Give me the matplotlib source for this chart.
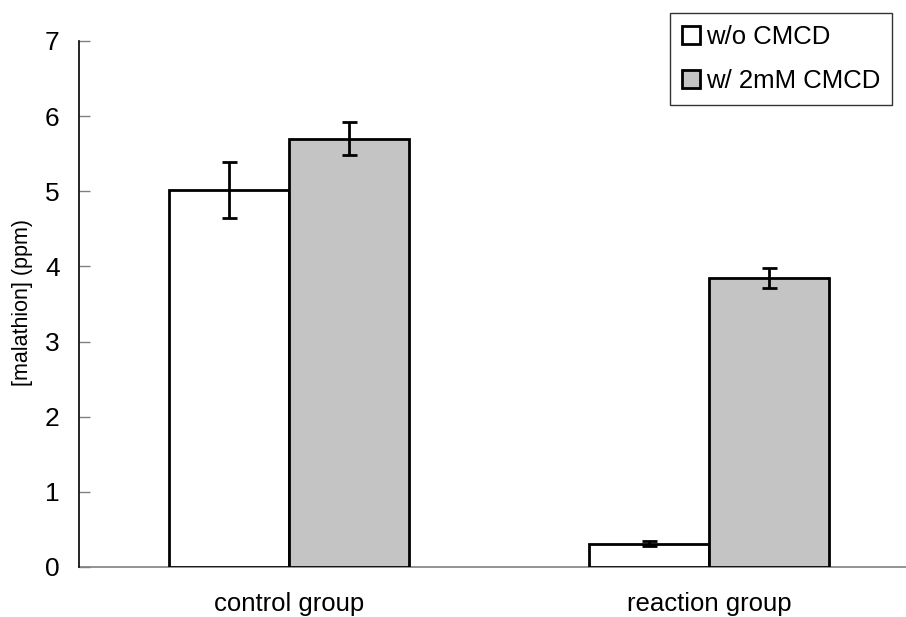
import matplotlib
matplotlib.use("Agg")
import matplotlib.pyplot as plt
import numpy as np
from matplotlib.patches import Patch

plt.rcParams['font.family'] = ['Liberation Sans', 'DejaVu Sans']

categories = ["control group", "reaction group"]
series_names = ["w/o CMCD", "w/ 2mM CMCD"]
values_wo = [5.02, 0.31]
errors_wo = [0.37, 0.03]
values_w = [5.70, 3.85]
errors_w = [0.22, 0.135]
yticks = [0, 1, 2, 3, 4, 5, 6, 7]

W, H = 906, 617
fig = plt.figure(figsize=(W / 100, H / 100), dpi=100)
ax = fig.add_axes([79 / W, 50 / H, 840 / W, 526 / H])

x = np.arange(len(categories))
bw = 120 / 420
grey = '#c4c4c4'
lw = 2.0
ax.bar(x - bw / 2, values_wo, bw, color='white', edgecolor='black', linewidth=lw, zorder=2)
ax.bar(x + bw / 2, values_w, bw, color=grey, edgecolor='black', linewidth=lw, zorder=2)
ekw = dict(fmt='none', ecolor='black', elinewidth=lw, capsize=5.4, capthick=lw, zorder=3)
ax.errorbar(x - bw / 2, values_wo, yerr=errors_wo, **ekw)
ax.errorbar(x + bw / 2, values_w, yerr=errors_w, **ekw)

ax.set_xlim(-0.5, 1.5)
ax.set_ylim(0, 7)
ax.set_yticks(yticks)
ax.set_yticklabels([str(t) for t in yticks], fontsize=19)
ax.set_xticks(x)
ax.set_xticklabels(categories, fontsize=18.5)
ax.tick_params(axis='y', direction='in', length=8, width=1, color='#808080', pad=14)
ax.tick_params(axis='x', length=0, pad=18)

for s in ['top', 'right']:
    ax.spines[s].set_visible(False)
ax.spines['left'].set_color('black')
ax.spines['left'].set_linewidth(1.2)
ax.spines['bottom'].set_color('#808080')
ax.spines['bottom'].set_linewidth(1.2)
ax.spines['left'].set_zorder(4)
ax.spines['bottom'].set_zorder(1)

fig.text(23 / W, 1 - 302 / H, "[malathion] (ppm)", rotation=90, ha='center', va='center', fontsize=15.5)

handles = [Patch(facecolor='white', edgecolor='black', linewidth=lw),
           Patch(facecolor=grey, edgecolor='black', linewidth=lw)]
leg = fig.legend(handles, series_names, loc='upper right',
                 bbox_to_anchor=(892 / W, 1 - 13 / H), fontsize=18.5,
                 handlelength=0.7, handleheight=0.7, handletextpad=0.25,
                 labelspacing=0.8, borderpad=0.45, borderaxespad=0,
                 fancybox=False, frameon=True, edgecolor='black')
leg.get_frame().set_linewidth(1.0)

fig.savefig("out.png", dpi=100)
